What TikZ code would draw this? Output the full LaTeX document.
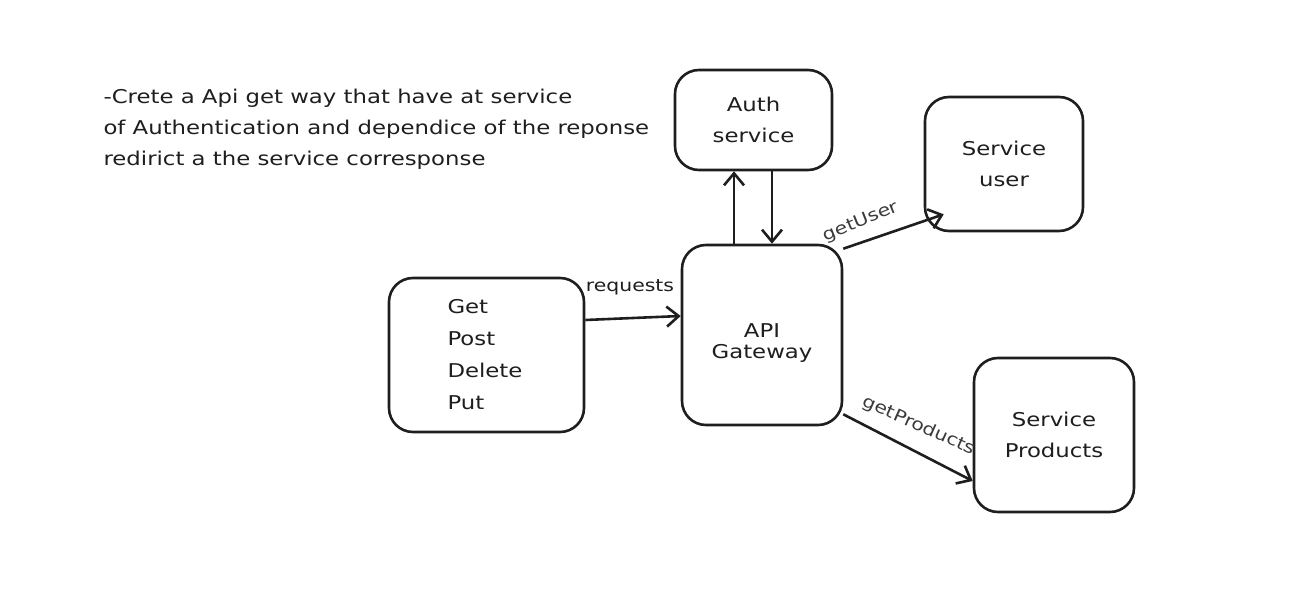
\documentclass[tikz,border=0pt]{standalone}
\usepackage{fontspec}
\usetikzlibrary{arrows.meta}
\newfontfamily\hand[FakeStretch=1.2]{DejaVu Sans}
\definecolor{ink}{HTML}{1E1E1E}
\definecolor{lbl}{HTML}{3A3A3A}
\tikzset{
  box/.style={draw=ink, line width=2.6pt, rounded corners=24pt, fill=white},
  txt/.style={font=\hand\fontsize{19}{31}\selectfont, text=ink},
  conn/.style={draw=ink, line width=2.6pt, -{Straight Barb[length=12pt,width=20pt,line width=2.6pt]}},
  elbl/.style={font=\hand\fontsize{17}{20}\selectfont, text=lbl, inner sep=1pt}
}
\begin{document}
\begin{tikzpicture}[x=1pt,y=-1pt]
\useasboundingbox (0,0) rectangle (1293,612);
\node[box, minimum width=157pt, minimum height=100pt] (auth) at (753.5,120) {};
\node[box, minimum width=158pt, minimum height=134pt] (user) at (1004,164) {};
\node[box, minimum width=160pt, minimum height=180pt] (api) at (762,335) {};
\node[box, minimum width=195pt, minimum height=154pt] (req) at (486.5,355) {};
\node[box, minimum width=160pt, minimum height=154pt] (prod) at (1054,435) {};

\node[txt, align=center] (authl) at (auth.center) {Auth\\service};
\node[txt, align=center] (userl) at (user.center) {Service\\user};
\node[txt, align=center, font=\hand\fontsize{19}{21}\selectfont] (apil) at ([yshift=-8pt]api.center) {API\\Gateway};
\node[txt, align=left, font=\hand\fontsize{19}{32}\selectfont, anchor=west] (reql) at (444,355) {Get\\Post\\Delete\\Put};
\node[txt, align=center] (prodl) at (prod.center) {Service\\Products};

\node[txt, align=left, anchor=north west] (note) at (100,86) {-Crete a Api get way that have at service\\of Authentication and dependice of the reponse\\redirict a the service corresponse};

\draw[conn] ([shift={(0pt,35pt)}]req.east) -- ([yshift=19pt]api.west);
\node[elbl, text=ink] (rl) at (630,287) {requests};
\draw[conn] ([xshift=-28pt]api.north) -- ([xshift=-19.5pt]auth.south);
\draw[conn] ([xshift=18.5pt]auth.south) -- ([xshift=10pt]api.north);
\draw[conn] ([yshift=-5pt]api.north east) -- ([shift={(20pt,18pt)}]user.south west);
\node[elbl, rotate=22] (gu) at (861,222) {getUser};
\draw[conn] ([yshift=12pt]api.south east) -- ([yshift=-46pt]prod.west);
\node[elbl, rotate=-24] (gp) at (919,426) {getProducts};
\end{tikzpicture}
\end{document}
